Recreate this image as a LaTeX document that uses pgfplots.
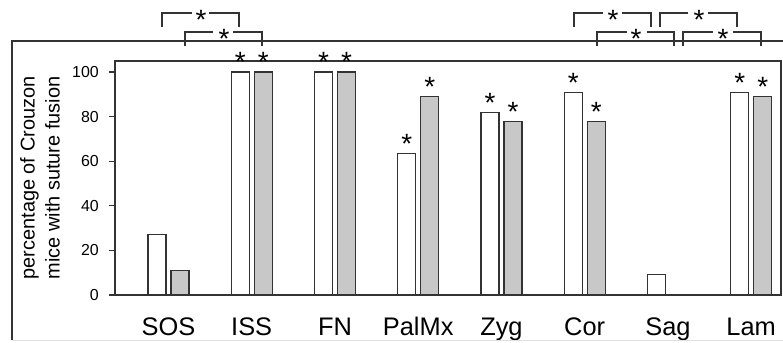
\documentclass[border=0pt]{standalone}
\usepackage{pgfplots}
\pgfplotsset{compat=1.18}
\usepackage{fontspec}
\setmainfont{Liberation Sans}
\definecolor{edge}{HTML}{333333}
\definecolor{barg}{HTML}{C8C8C8}
\tikzset{sig/.style={font=\fontsize{28}{28}\selectfont, anchor=base, inner sep=0pt, text=black}}
\begin{document}
\begin{tikzpicture}
\useasboundingbox (-115bp,-48bp) rectangle (668bp,295bp);
\begin{axis}[
  at={(0,0)}, anchor=south west,
  scale only axis, width=666bp, height=234bp,
  xmin=-0.642, xmax=7.358, ymin=0, ymax=104.9,
  axis line style={edge, line width=1.2bp},
  xtick={0,...,7}, xticklabels={SOS,ISS,FN,PalMx,Zyg,Cor,Sag,Lam},
  xtick style={draw=none},
  xticklabel style={font=\fontsize{25.5}{25.5}\selectfont, anchor=north, text height=18bp, text depth=5bp, inner sep=0pt, yshift=-16bp},
  ytick={0,20,...,100},
  yticklabels={0,20,40,60,80,100},
  ytick pos=left, tick align=outside, major tick length=6bp,
  ytick style={edge, line width=1.2bp},
  yticklabel style={font=\fontsize{16}{16}\selectfont, anchor=east, inner sep=0pt, xshift=-10bp},
  ylabel={percentage of Crouzon\\mice with suture fusion},
  ylabel style={font=\fontsize{20}{25}\selectfont, align=center, inner sep=0pt, at={(axis description cs:-0.0826,0.5)}, anchor=south},
  clip=false,
]
\addplot[ybar, bar width=18bp, bar shift=-11.5bp, draw=edge, line width=1.2bp, fill=white]
  coordinates {(0,27.3) (1,100) (2,100) (3,63.6) (4,81.8) (5,90.9) (6,9.1) (7,90.9)};
\addplot[ybar, bar width=18bp, bar shift=11.5bp, draw=edge, line width=1.2bp, fill=barg]
  coordinates {(0,11.1) (1,100) (2,100) (3,88.9) (4,77.8) (5,77.8) (7,88.9)};
\node[sig, xshift=-11.5bp] at (axis cs:1,100) {*};
\node[sig, xshift=11.5bp] at (axis cs:1,100) {*};
\node[sig, xshift=-11.5bp] at (axis cs:2,100) {*};
\node[sig, xshift=11.5bp] at (axis cs:2,100) {*};
\node[sig, xshift=-11.5bp] at (axis cs:3,63.6) {*};
\node[sig, xshift=11.5bp] at (axis cs:3,88.9) {*};
\node[sig, xshift=-11.5bp] at (axis cs:4,81.8) {*};
\node[sig, xshift=11.5bp] at (axis cs:4,77.8) {*};
\node[sig, xshift=-11.5bp] at (axis cs:5,90.9) {*};
\node[sig, xshift=11.5bp] at (axis cs:5,77.8) {*};
\node[sig, xshift=-11.5bp] at (axis cs:7,90.9) {*};
\node[sig, xshift=11.5bp] at (axis cs:7,88.9) {*};
\end{axis}
\begin{scope}[x=1bp, y=1bp, line width=1.2bp, draw=edge]
\draw[edge] (-103,-45) -- (-103,254) -- (670,254);
\draw[black!12, line width=1bp] (-103,-45) -- (670,-45);
\draw[edge] (47,268) -- (47,282) -- (77,282);
\draw[edge] (94,282) -- (124,282) -- (124,268);
\node[sig, yshift=-16.5bp] at (86,282) {*};
\draw[edge] (459,268) -- (459,282) -- (488,282);
\draw[edge] (507,282) -- (536,282) -- (536,268);
\node[sig, yshift=-16.5bp] at (498,282) {*};
\draw[edge] (545,268) -- (545,282) -- (573,282);
\draw[edge] (593,282) -- (622,282) -- (622,268);
\node[sig, yshift=-16.5bp] at (584,282) {*};
\draw[edge] (70,249) -- (70,263) -- (98,263);
\draw[edge] (118,263) -- (147,263) -- (147,249);
\node[sig, yshift=-16.5bp] at (109,263) {*};
\draw[edge] (482,249) -- (482,263) -- (512,263);
\draw[edge] (532,263) -- (559,263) -- (559,249);
\node[sig, yshift=-16.5bp] at (521,263) {*};
\draw[edge] (568,249) -- (568,263) -- (598,263);
\draw[edge] (618,263) -- (646,263) -- (646,249);
\node[sig, yshift=-16.5bp] at (608,263) {*};
\end{scope}
\end{tikzpicture}
\end{document}
